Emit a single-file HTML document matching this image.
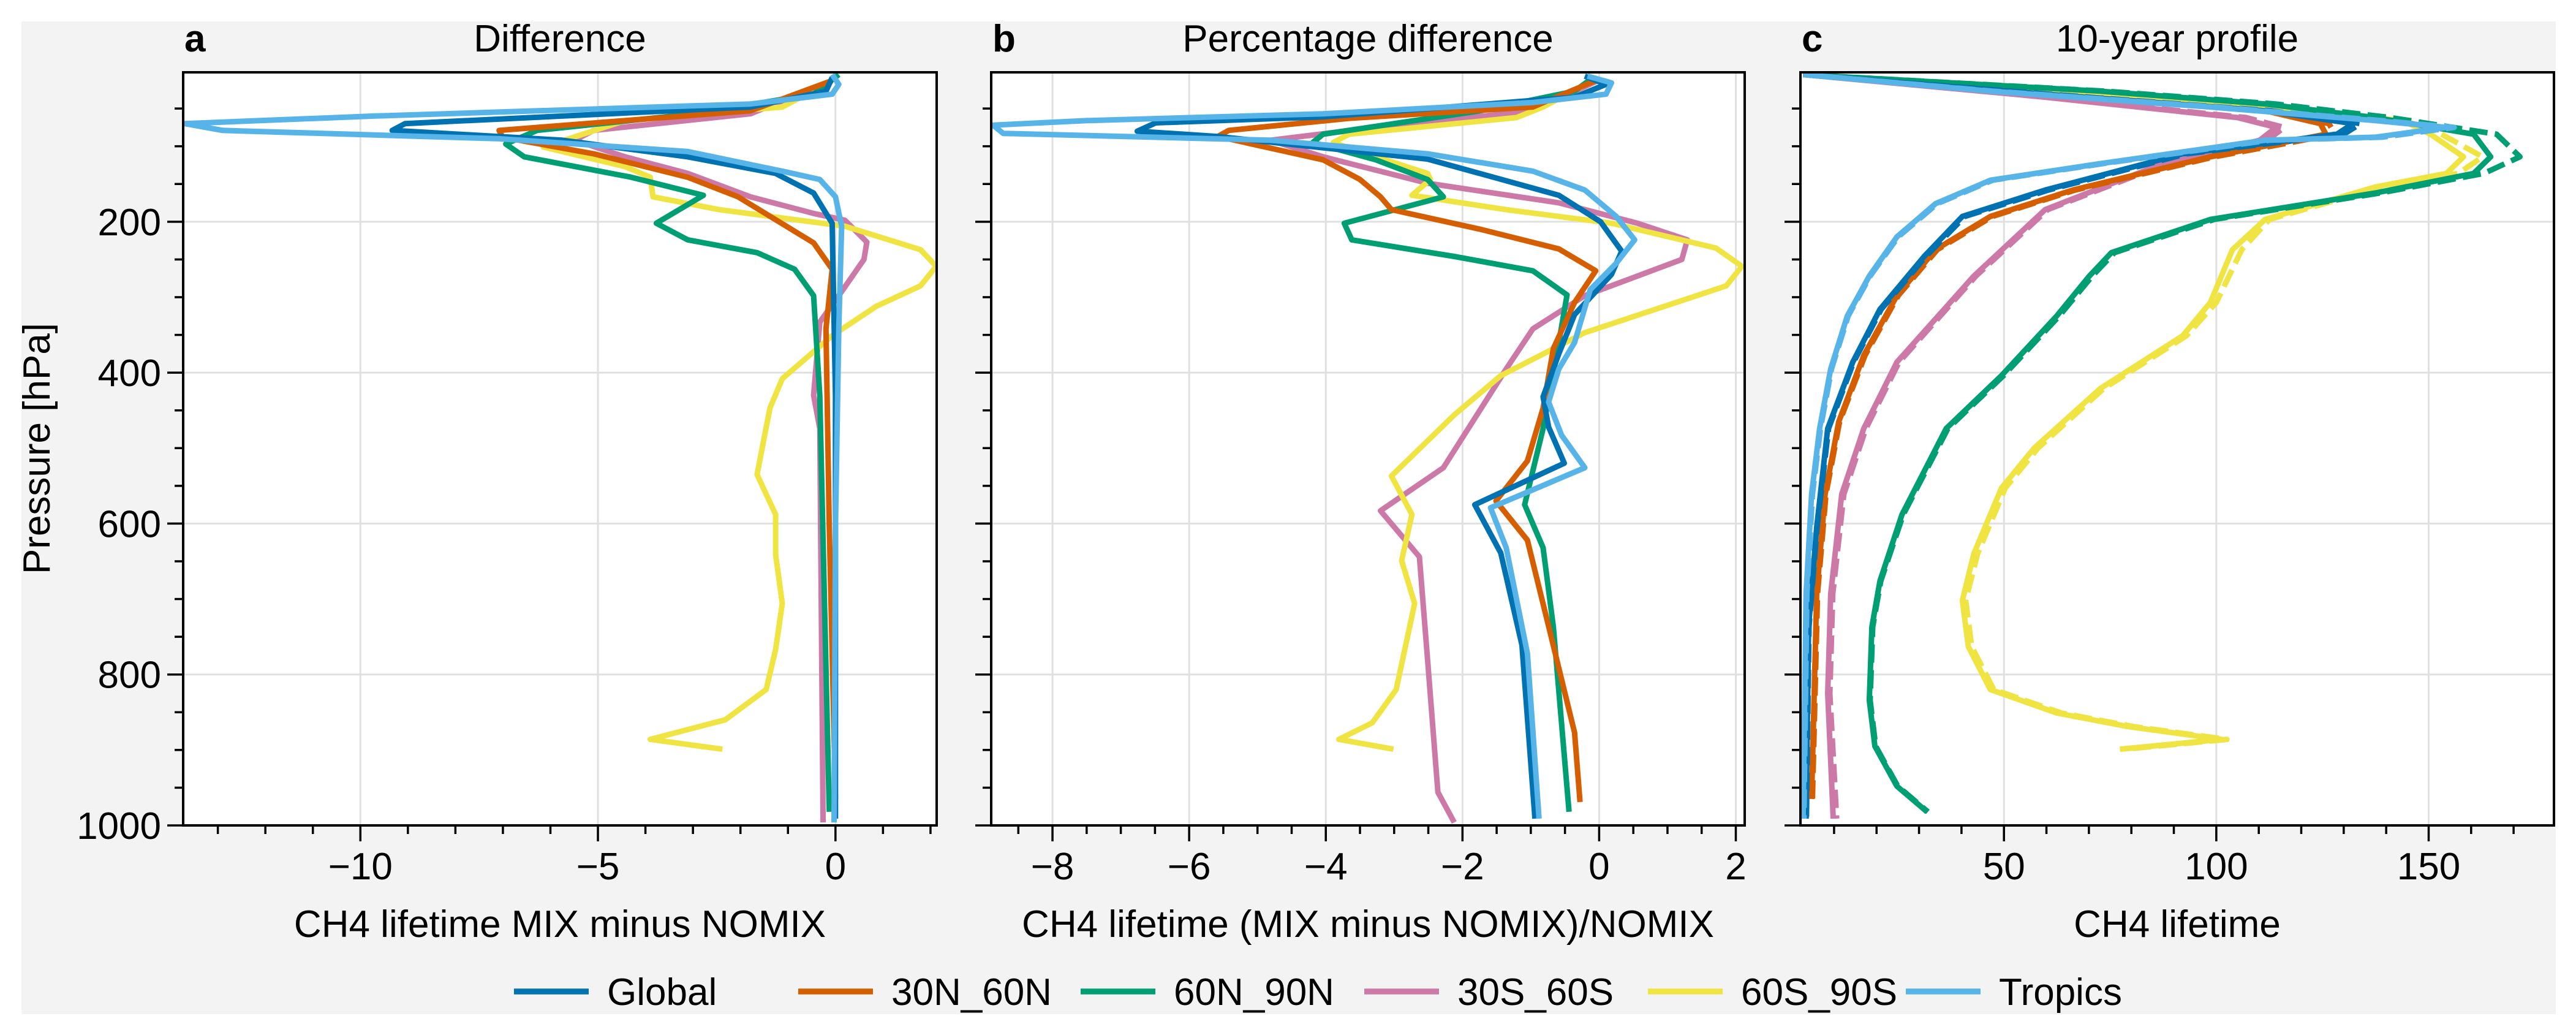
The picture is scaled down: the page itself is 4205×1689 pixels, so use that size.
<!DOCTYPE html>
<html><head><meta charset="utf-8">
<style>
html,body{margin:0;padding:0;background:#fff;}
svg{display:block;font-family:"Liberation Sans",sans-serif;}
</style></head>
<body>
<svg id="fig" width="4205" height="1689" viewBox="0 0 4205 1689" xmlns="http://www.w3.org/2000/svg">
<rect x="35" y="35" width="4137" height="1620" fill="#f3f3f3"/>
<g id="plots"></g>
<g id="legend"></g>
</svg>
<script>
// ---------- data (pressure hPa, value) ----------
// Panel a: difference
const aGlobalP=[9,27,48,70,79,92,114,136,162,202,430,991];
const aGlobalX=[-0.07,-0.20,-1.79,-9.06,-9.33,-5.75,-3.11,-1.26,-0.46,-0.07,0,0];
const a30NP=[13,53,79,88,110,141,167,228,263,342,605,965];
const a30NX=[-0.07,-1.79,-7.08,-7.01,-5.09,-3.11,-2.05,-0.46,-0.07,-0.20,-0.13,0];
const a60NP=[5,31,57,79,97,114,141,165,202,224,241,263,298,430,982];
const a60NX=[0.07,-0.46,-2.98,-6.28,-6.94,-6.55,-4.30,-2.78,-3.77,-3.11,-1.65,-0.86,-0.46,-0.33,-0.13];
const a30SP=[13,57,79,92,114,136,167,189,198,227,250,298,333,430,474,996];
const a30SX=[-0.07,-1.79,-5.09,-5.49,-4.43,-3.11,-1.79,-0.46,0.20,0.66,0.60,0.07,-0.33,-0.46,-0.33,-0.26];
const a60SP=[13,48,66,101,127,141,167,184,206,237,259,285,312,351,408,447,535,588,641,706,767,820,860,886,899];
const a60SX=[-0.07,-1.12,-4.43,-6.15,-4.43,-3.90,-3.84,-2.45,0.20,1.79,2.12,1.79,0.86,-0.07,-1.12,-1.38,-1.65,-1.26,-1.26,-1.12,-1.26,-1.46,-2.32,-3.90,-2.38];
const aTropP=[5,18,31,44,60,70,79,90,107,133,144,167,206,342,605,996];
const aTropX=[-0.07,0.07,-0.07,-1.79,-9.72,-13.7,-12.9,-7.08,-3.11,-1.12,-0.33,0,0.13,0.07,0,-0.03];
// Panel b: percentage difference
const bGlobalP=[7,18,35,61,69,80,87,117,165,200,239,270,323,375,432,472,520,575,639,761,991];
const bGlobalX=[-0.21,0.10,-0.36,-4.04,-6.49,-6.76,-5.58,-2.51,-0.59,0.02,0.33,0.18,-0.36,-0.59,-0.82,-0.74,-0.51,-1.82,-1.44,-1.13,-0.94];
const b30NP=[13,48,63,79,87,118,144,167,184,210,236,265,307,368,447,517,570,622,736,877,969];
const b30NX=[-0.05,-0.97,-3.66,-5.42,-5.58,-4.04,-3.50,-3.20,-3.04,-1.74,-0.59,-0.05,-0.36,-0.67,-0.82,-1.05,-1.51,-1.05,-0.74,-0.36,-0.28];
const b60NP=[9,27,53,84,95,118,144,167,202,224,246,265,297,360,474,575,632,737,982];
const b60NX=[-0.09,-0.36,-1.74,-4.04,-4.19,-3.27,-2.51,-2.28,-3.73,-3.62,-2.12,-0.97,-0.47,-0.59,-0.82,-1.09,-0.82,-0.67,-0.44];
const b30SP=[13,53,75,92,114,149,175,202,224,250,298,342,395,526,583,644,781,956,996];
const b30SX=[-0.02,-0.97,-3.27,-4.81,-4.04,-2.51,-0.59,0.56,1.29,1.21,-0.21,-0.97,-1.36,-2.28,-3.20,-2.63,-2.51,-2.36,-2.12];
const b60SP=[13,48,62,84,95,114,136,144,165,184,202,235,259,285,347,404,456,537,588,649,706,820,864,886,899];
const b60SX=[-0.09,-0.82,-1.21,-3.66,-3.89,-3.27,-2.51,-2.47,-2.74,-1.36,0.18,1.71,2.09,1.86,-0.21,-1.44,-2.12,-3.04,-2.74,-2.89,-2.70,-2.97,-3.32,-3.81,-3.01];
const bTropP=[7,16,31,42,57,66,72,83,92,110,133,158,193,224,255,290,360,395,439,483,526,579,632,772,991];
const bTropX=[-0.17,0.18,0.10,-0.97,-4.04,-7.49,-8.87,-8.72,-4.81,-2.51,-0.97,-0.21,0.25,0.52,0.25,-0.13,-0.36,-0.59,-0.74,-0.55,-0.21,-1.59,-1.36,-1.05,-0.88];
// Panel c: 10-year profile (solid = MIX, dashed = NOMIX)
const cGlobalP=[5,31,53,70,84,110,158,193,246,316,386,474,605,737,991];
const cGlobalX=[2.7,59.7,111.5,132.2,128.4,92.1,59.7,40.2,31.2,20.8,14.4,8.5,5.9,4.0,3.4];
const cGlobalXd=[2.7,60.5,113,134,130,93,60.5,40.8,31.6,21.1,14.6,8.7,6.0,4.1,3.5];
const c30NP=[5,31,53,70,84,114,158,193,237,298,377,465,561,693,965];
const c30NX=[2.7,59.7,111.5,124.5,125.8,98.6,66.2,46.8,33.9,24.8,17.0,11.1,7.9,5.9,4.7];
const c30NXd=[2.7,60.5,113,126.5,128,99.5,66.8,47.3,34.3,25.1,17.3,11.3,8.1,6.1,4.9];
const c60NP=[5,27,44,62,84,114,136,162,197,241,272,325,404,474,588,676,737,834,895,948,982];
const c60NX=[2.7,72.7,111.5,137.4,160.6,164.6,160.6,137.4,98.6,75.3,70.1,62.4,49.4,36.4,26.0,20.8,18.9,18.3,19.6,24.8,31.9];
const c60NXd=[2.7,74,114,141,166,171.5,163,138.5,99.5,76,70.8,63,49.9,36.8,26.3,21.0,19.1,18.5,19.8,25.0,32.1];
const c30SP=[5,35,62,75,92,127,184,272,386,474,561,693,825,991];
const c30SX=[2.7,59.7,105,114.1,110.2,85.6,59.7,42.9,24.8,17.0,11.8,9.2,8.5,9.8];
const c30SXd=[2.7,60.5,107,116,112,86.5,60.3,43.4,25.3,17.5,12.3,9.7,9.0,10.6];
const c60SP=[5,31,48,66,84,114,136,154,197,237,307,351,421,500,553,640,702,763,820,851,869,886,899];
const c60SX=[2.7,72.7,111.5,143.9,150.4,158.2,154.2,137.4,111.5,103.8,98.6,92.1,72.7,57.1,49.4,42.9,40.2,41.6,46.8,62.4,79.2,101.2,77.3];
const c60SXd=[2.7,74,113,146,153,162.7,157,139,112.5,106,100,93,73.5,58,50.3,43.8,41.0,42.4,47.6,63.5,80.5,102.5,78.5];
const cTropP=[5,27,48,66,75,88,92,123,145,176,220,272,325,395,474,561,693,991];
const cTropX=[2.7,46.8,98.6,137.4,154.2,137.4,111.5,72.7,46.8,33.9,24.8,18.3,13.1,9.2,6.6,4.7,3.4,2.7];
const cTropXd=[2.7,47.5,100,139,156,139,112.5,73.3,47.3,34.3,25.1,18.5,13.3,9.4,6.8,4.9,3.6,2.9];
// tick labels
const yTicks=[200,400,600,800,1000];
const aXTicks=[-10,-5,0];
const bXTicks=[-8,-6,-4,-2,0,2];
const cXTicks=[50,100,150];
const seriesNames=["Global","30N_60N","60N_90N","30S_60S","60S_90S","Tropics"];
const seriesColors=["#0072B2","#D55E00","#009E73","#CC79A7","#F0E442","#56B4E9"];

// ---------- drawing ----------
const NS="http://www.w3.org/2000/svg";
const plots=document.getElementById('plots');
function mk(tag,attrs,parent){const e=document.createElementNS(NS,tag);for(const k in attrs)e.setAttribute(k,attrs[k]);(parent||plots).appendChild(e);return e;}
const TOP=118,BOT=1347,PMIN=2,PMAX=1000;
function yS(p){return TOP+(p-PMIN)/(PMAX-PMIN)*(BOT-TOP);}
const LW=9;
const FS=62;

function panel(cfg){
  const g=mk('g',{});
  
  
  const xS=v=>cfg.x0+(v-cfg.vmin)/(cfg.vmax-cfg.vmin)*(cfg.x1-cfg.x0);
  const bg=mk('rect',{x:cfg.x0,y:TOP,width:cfg.x1-cfg.x0,height:BOT-TOP,fill:'#fff'},g);
  
  
  yTicks.forEach(t=>{const l=mk('line',{x1:cfg.x0,x2:cfg.x1,y1:yS(t),y2:yS(t),stroke:'#e0e0e0','stroke-width':3},g);
    });
  cfg.xticks.forEach(t=>{const l=mk('line',{x1:xS(t),x2:xS(t),y1:TOP,y2:BOT,stroke:'#e0e0e0','stroke-width':3},g);
    });
  const cp=mk('clipPath',{id:'clip'+cfg.id},g);
  mk('rect',{x:cfg.x0,y:TOP,width:cfg.x1-cfg.x0,height:BOT-TOP},cp);
  const sg=mk('g',{'clip-path':'url(#clip'+cfg.id+')'},g);
  cfg.series.forEach(s=>{
    const d=s.p.map((p,i)=>(i?'L':'M')+xS(s.x[i]).toFixed(1)+' '+yS(p).toFixed(1)).join(' ');
    const path=mk('path',{d:d,fill:'none',stroke:s.c,'stroke-width':LW,'stroke-linejoin':'round'},sg);
    if(s.dash)path.setAttribute('stroke-dasharray','30 12');
    
    
  });
  const fr=mk('rect',{x:cfg.x0,y:TOP,width:cfg.x1-cfg.x0,height:BOT-TOP,fill:'none',stroke:'#000','stroke-width':4},g);
  
  for(let p=50;p<=1000;p+=50){const maj=(p%200===0);
    mk('line',{x1:cfg.x0,x2:cfg.x0-(maj?26:14),y1:yS(p),y2:yS(p),stroke:'#000','stroke-width':3.5},g);}
  if(cfg.ylabels){yTicks.forEach(t=>{const tx=mk('text',{x:cfg.x0-36,y:yS(t)+22,'text-anchor':'end','font-size':FS},g);tx.textContent=t;
    });}
  const start=Math.ceil(cfg.vmin/cfg.minor)*cfg.minor;
  for(let v=start;v<=cfg.vmax+1e-9;v+=cfg.minor){const maj=cfg.xticks.some(t=>Math.abs(t-v)<1e-6);
    mk('line',{x1:xS(v),x2:xS(v),y1:BOT,y2:BOT+(maj?26:14),stroke:'#000','stroke-width':3.5},g);}
  cfg.xticks.forEach(t=>{const tx=mk('text',{x:xS(t),y:BOT+88,'text-anchor':'middle','font-size':FS},g);
    tx.textContent=(t<0?'\u2212'+Math.abs(t):String(t));
    });
  const xl=mk('text',{x:(cfg.x0+cfg.x1)/2,y:1529,'text-anchor':'middle','font-size':FS},g);xl.textContent=cfg.xlabel;
  
  const ti=mk('text',{x:(cfg.x0+cfg.x1)/2,y:84,'text-anchor':'middle','font-size':FS},g);ti.textContent=cfg.title;
  
  const le=mk('text',{x:cfg.x0+2,y:84,'font-size':FS,'font-weight':'bold'},g);le.textContent=cfg.letter;
  
}
const C=seriesColors,N=seriesNames;
panel({id:'a',name:'panel-a-difference',x0:299,x1:1529,vmin:-13.73,vmax:2.13,xticks:aXTicks,minor:1,ylabels:true,
  title:'Difference',letter:'a',xlabel:'CH4 lifetime MIX minus NOMIX',
  series:[{p:a30SP,x:a30SX,c:C[3],n:'line-30S_60S'},{p:a60SP,x:a60SX,c:C[4],n:'line-60S_90S'},{p:a60NP,x:a60NX,c:C[2],n:'line-60N_90N'},
    {p:a30NP,x:a30NX,c:C[1],n:'line-30N_60N'},{p:aGlobalP,x:aGlobalX,c:C[0],n:'line-global'},{p:aTropP,x:aTropX,c:C[5],n:'line-tropics'}]});
panel({id:'b',name:'panel-b-percentage-difference',x0:1618,x1:2848,vmin:-8.897,vmax:2.13,xticks:bXTicks,minor:0.5,ylabels:false,
  title:'Percentage difference',letter:'b',xlabel:'CH4 lifetime (MIX minus NOMIX)/NOMIX',
  series:[{p:b30SP,x:b30SX,c:C[3],n:'line-30S_60S'},{p:b60SP,x:b60SX,c:C[4],n:'line-60S_90S'},{p:b60NP,x:b60NX,c:C[2],n:'line-60N_90N'},
    {p:b30NP,x:b30NX,c:C[1],n:'line-30N_60N'},{p:bGlobalP,x:bGlobalX,c:C[0],n:'line-global'},{p:bTropP,x:bTropX,c:C[5],n:'line-tropics'}]});
panel({id:'c',name:'panel-c-10-year-profile',x0:2939,x1:4169,vmin:2.08,vmax:179.5,xticks:cXTicks,minor:10,ylabels:false,
  title:'10-year profile',letter:'c',xlabel:'CH4 lifetime',
  series:[{p:c60SP,x:c60SXd,c:C[4],dash:1,n:'line-60S_90S-nomix'},{p:c60SP,x:c60SX,c:C[4],n:'line-60S_90S'},
    {p:c60NP,x:c60NXd,c:C[2],dash:1,n:'line-60N_90N-nomix'},{p:c60NP,x:c60NX,c:C[2],n:'line-60N_90N'},
    {p:c30SP,x:c30SXd,c:C[3],dash:1,n:'line-30S_60S-nomix'},{p:c30SP,x:c30SX,c:C[3],n:'line-30S_60S'},
    {p:c30NP,x:c30NXd,c:C[1],dash:1,n:'line-30N_60N-nomix'},{p:c30NP,x:c30NX,c:C[1],n:'line-30N_60N'},
    {p:cGlobalP,x:cGlobalXd,c:C[0],dash:1,n:'line-global-nomix'},{p:cGlobalP,x:cGlobalX,c:C[0],n:'line-global'},
    {p:cTropP,x:cTropXd,c:C[5],dash:1,n:'line-tropics-nomix'},{p:cTropP,x:cTropX,c:C[5],n:'line-tropics'}]});
const yt=mk('text',{x:0,y:0,'text-anchor':'middle','font-size':FS,transform:'translate(81,732) rotate(-90)'});
yt.textContent='Pressure [hPa]';


const leg=document.getElementById('legend');
const legX=[839,1303,1764,2227,2690,3111];
N.forEach((n,i)=>{
  const g=mk('g',{},leg);
  
  
  mk('line',{x1:legX[i],x2:legX[i]+122,y1:1618,y2:1618,stroke:C[i],'stroke-width':9.5},g);
  const t=mk('text',{x:legX[i]+152,y:1640,'font-size':FS},g);t.textContent=n;
});
</script>
</body></html>
